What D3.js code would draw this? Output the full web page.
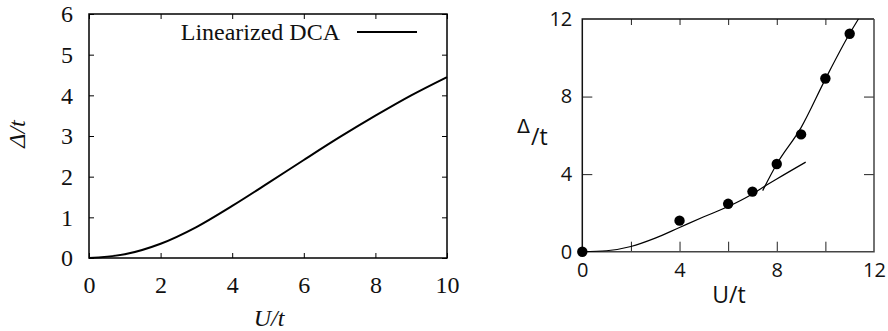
<!DOCTYPE html>
<html>
<head>
<meta charset="utf-8">
<script src="https://cdn.jsdelivr.net/npm/d3@7"></script>
<style>
  html, body { margin: 0; padding: 0; background: #fff; }
  svg { display: block; }
</style>
</head>
<body>
<svg id="chart" width="888" height="331"></svg>
<script>
// Left panel: linearized DCA gap vs U/t
const dcaU     = [0, 1, 2, 3, 4, 5, 6, 7, 8, 9, 10];
const dcaGap   = [0, 0.09, 0.35, 0.76, 1.28, 1.84, 2.41, 2.97, 3.5, 4.0, 4.45];
const leftXTicks = [0, 2, 4, 6, 8, 10];
const leftYTicks = [0, 1, 2, 3, 4, 5, 6];
const legendLabel = "Linearized DCA";

// Right panel: computed gap points and two guide curves
const ptU   = [0, 4, 6, 7, 8, 9, 10, 11];
const ptGap = [0, 1.6, 2.47, 3.1, 4.52, 6.05, 8.93, 11.24];
const lowU   = [0, 1, 2, 3, 4, 5, 6, 7, 7.6, 8, 9.19];
const lowGap = [0, 0.05, 0.27, 0.7, 1.25, 1.8, 2.33, 2.98, 3.45, 3.75, 4.62];
const highU   = [7.42, 8, 9, 10, 11, 11.36];
const highGap = [3.15, 4.52, 6.4, 8.9, 11.25, 12];
const rightXMinor = [2, 4, 6, 8, 10];
const rightXLabels = [0, 4, 8, 12];
const rightYMinor = [4, 8];
const rightYLabels = [0, 4, 8, 12];

const svg = d3.select("#chart");

// ---------- left panel ----------
{
  const serif = "'Liberation Serif', 'Times New Roman', serif";
  const x = d3.scaleLinear().domain([0, 10]).range([89, 447]);
  const y = d3.scaleLinear().domain([0, 6]).range([258, 14]);
  const g = svg.append("g");

  const styleAxis = sel => {
    sel.select(".domain").remove();
    sel.selectAll("line").attr("stroke", "#000").attr("stroke-width", 1);
    sel.selectAll("text").attr("font-family", serif).attr("font-size", 24).attr("fill", "#111");
  };

  g.append("g").attr("transform", `translate(0,${y(0)})`)
    .call(d3.axisBottom(x).tickValues(leftXTicks).tickSize(-5).tickPadding(18).tickFormat(d3.format("d")))
    .call(styleAxis);
  g.append("g").attr("transform", `translate(0,${y(6)})`)
    .call(d3.axisTop(x).tickValues(leftXTicks).tickSize(-5).tickFormat(""))
    .call(styleAxis);
  g.append("g").attr("transform", `translate(${x(0)},0)`)
    .call(d3.axisLeft(y).tickValues(leftYTicks).tickSize(-5).tickPadding(16).tickFormat(d3.format("d")))
    .call(styleAxis);
  g.append("g").attr("transform", `translate(${x(10)},0)`)
    .call(d3.axisRight(y).tickValues(leftYTicks).tickSize(-5).tickFormat(""))
    .call(styleAxis);

  g.append("rect")
    .attr("x", x(0)).attr("y", y(6))
    .attr("width", x(10) - x(0)).attr("height", y(0) - y(6))
    .attr("fill", "none").attr("stroke", "#000").attr("stroke-width", 1.5);

  const line = d3.line().x(d => x(d[0])).y(d => y(d[1])).curve(d3.curveCatmullRom.alpha(0.5));
  g.append("path")
    .datum(d3.zip(dcaU, dcaGap))
    .attr("d", line)
    .attr("fill", "none").attr("stroke", "#000").attr("stroke-width", 2);

  // legend
  g.append("text")
    .attr("x", 340).attr("y", 40)
    .attr("text-anchor", "end")
    .attr("font-family", serif).attr("font-size", 24).attr("fill", "#111")
    .text(legendLabel);
  g.append("line")
    .attr("x1", 357).attr("x2", 417).attr("y1", 32).attr("y2", 32)
    .attr("stroke", "#000").attr("stroke-width", 2);

  // axis titles
  g.append("text")
    .attr("x", 269).attr("y", 326)
    .attr("text-anchor", "middle")
    .attr("font-family", serif).attr("font-style", "italic").attr("font-size", 24).attr("fill", "#111")
    .text("U/t");
  g.append("text")
    .attr("transform", `translate(25,134) rotate(-90)`)
    .attr("text-anchor", "middle")
    .attr("font-family", serif).attr("font-style", "italic").attr("font-size", 24).attr("fill", "#111")
    .text("Δ/t");
}

// ---------- right panel ----------
{
  const sans = "'Open Sans', 'DejaVu Sans', sans-serif";
  const x = d3.scaleLinear().domain([0, 12]).range([582.3, 874]);
  const y = d3.scaleLinear().domain([0, 12]).range([251.7, 19]);
  const g = svg.append("g");

  const styleAxis = sel => {
    sel.select(".domain").remove();
    sel.selectAll("line").attr("stroke", "#222").attr("stroke-width", 1);
    sel.selectAll("text").attr("font-family", sans).attr("font-size", 20).attr("fill", "#111");
  };

  // tick marks
  g.append("g").attr("transform", `translate(0,${y(0)})`)
    .call(d3.axisBottom(x).tickValues(rightXMinor).tickSize(-10).tickFormat(""))
    .call(styleAxis);
  g.append("g").attr("transform", `translate(0,${y(12)})`)
    .call(d3.axisTop(x).tickValues(rightXMinor).tickSize(-6).tickFormat(""))
    .call(styleAxis);
  g.append("g").attr("transform", `translate(${x(0)},0)`)
    .call(d3.axisLeft(y).tickValues(rightYMinor).tickSize(-10).tickFormat(""))
    .call(styleAxis);
  g.append("g").attr("transform", `translate(${x(12)},0)`)
    .call(d3.axisRight(y).tickValues(rightYMinor).tickSize(-10).tickFormat(""))
    .call(styleAxis);

  // tick labels
  g.append("g").attr("transform", `translate(0,${y(0)})`)
    .call(d3.axisBottom(x).tickValues(rightXLabels).tickSize(0).tickPadding(11).tickFormat(d3.format("d")))
    .call(styleAxis);
  g.append("g").attr("transform", `translate(${x(0)},0)`)
    .call(d3.axisLeft(y).tickValues(rightYLabels).tickSize(0).tickPadding(10).tickFormat(d3.format("d")))
    .call(styleAxis);

  // frame
  const x0 = x(0), x1 = x(12), yb = y(0), yt = y(12);
  g.append("path").attr("d", `M${x0},${yb}V${yt}H${x1}`)
    .attr("fill", "none").attr("stroke", "#111").attr("stroke-width", 1.5);
  g.append("path").attr("d", `M${x0},${yb}H${x1}V${yt}`)
    .attr("fill", "none").attr("stroke", "#444").attr("stroke-width", 1.5);

  const line = d3.line().x(d => x(d[0])).y(d => y(d[1])).curve(d3.curveMonotoneX);
  g.append("path")
    .datum(d3.zip(lowU, lowGap))
    .attr("d", line)
    .attr("fill", "none").attr("stroke", "#000").attr("stroke-width", 1.2);
  g.append("path")
    .datum(d3.zip(highU, highGap))
    .attr("d", line)
    .attr("fill", "none").attr("stroke", "#000").attr("stroke-width", 1.2);

  g.selectAll("circle.pt")
    .data(d3.zip(ptU, ptGap))
    .join("circle")
    .attr("class", "pt")
    .attr("cx", d => x(d[0])).attr("cy", d => y(d[1]))
    .attr("r", 5.2).attr("fill", "#000");

  // axis titles
  g.append("text")
    .attr("x", 729).attr("y", 303)
    .attr("text-anchor", "middle")
    .attr("font-family", sans).attr("font-size", 23).attr("fill", "#111")
    .text("U/t");
  g.append("text")
    .attr("x", 517).attr("y", 133)
    .style("font-family", "'DejaVu Sans', sans-serif").style("font-size", "19px")
    .attr("fill", "#111")
    .text("Δ");
  g.append("text")
    .attr("x", 531).attr("y", 145)
    .style("font-family", sans).style("font-size", "23px")
    .attr("fill", "#111")
    .text("/t");
}
</script>
</body>
</html>
